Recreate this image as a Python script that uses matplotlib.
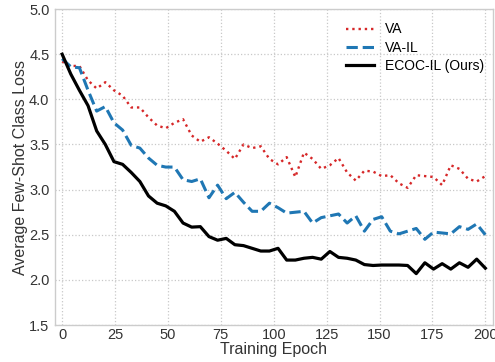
import matplotlib

matplotlib.use("Agg")

import matplotlib.pyplot as plt
import numpy as np

# 50 evaluation points spread over 200 epochs
epochs = np.linspace(0, 200, 50)

va_loss = [
    4.42, 4.37, 4.37, 4.21, 4.12, 4.19, 4.10, 4.04, 3.91, 3.91,
    3.80, 3.71, 3.68, 3.74, 3.78, 3.60, 3.53, 3.58, 3.51, 3.43,
    3.34, 3.50, 3.46, 3.48, 3.34, 3.28, 3.36, 3.14, 3.41, 3.34,
    3.23, 3.27, 3.35, 3.19, 3.10, 3.21, 3.20, 3.15, 3.16, 3.07,
    3.02, 3.16, 3.15, 3.14, 3.05, 3.27, 3.23, 3.12, 3.09, 3.15,
]

va_il_loss = [
    4.45, 4.36, 4.35, 4.10, 3.87, 3.92, 3.74, 3.66, 3.49, 3.46,
    3.35, 3.27, 3.25, 3.25, 3.11, 3.09, 3.12, 2.91, 3.05, 2.90,
    2.97, 2.86, 2.76, 2.76, 2.85, 2.80, 2.74, 2.75, 2.76, 2.63,
    2.69, 2.71, 2.73, 2.63, 2.71, 2.54, 2.67, 2.70, 2.54, 2.51,
    2.54, 2.57, 2.45, 2.53, 2.52, 2.51, 2.59, 2.56, 2.62, 2.50,
]

ecoc_il_loss = [
    4.50, 4.28, 4.10, 3.93, 3.65, 3.50, 3.31, 3.28, 3.19, 3.09,
    2.93, 2.85, 2.82, 2.76, 2.63, 2.585, 2.59, 2.48, 2.44, 2.46,
    2.39, 2.38, 2.35, 2.32, 2.32, 2.35, 2.22, 2.22, 2.24, 2.25,
    2.23, 2.315, 2.25, 2.24, 2.22, 2.17, 2.16, 2.165, 2.165, 2.165,
    2.16, 2.07, 2.19, 2.12, 2.18, 2.12, 2.19, 2.14, 2.23, 2.13,
]

x_ticks = [0, 25, 50, 75, 100, 125, 150, 175, 200]
y_ticks = [1.5, 2.0, 2.5, 3.0, 3.5, 4.0, 4.5, 5.0]

plt.rcParams["font.family"] = ["Liberation Sans", "DejaVu Sans"]

fig, ax = plt.subplots(figsize=(4.95, 3.62), dpi=100)
fig.subplots_adjust(left=0.111, right=0.995, top=0.975, bottom=0.102)

ax.plot(epochs, va_loss, color="#d62728", linestyle=":", linewidth=1.7, label="VA")
ax.plot(epochs, va_il_loss, color="#1f77b4", linestyle="--", linewidth=2.2, label="VA-IL")
ax.plot(epochs, ecoc_il_loss, color="black", linestyle="-", linewidth=2.3, label="ECOC-IL (Ours)")

ax.set_xlim(-3.4, 203.4)
ax.set_ylim(1.5, 5.0)
ax.set_xticks(x_ticks)
ax.set_yticks(y_ticks)
ax.set_xlabel("Training Epoch", fontsize=11.5, color="#333333", labelpad=0)
ax.set_ylabel("Average Few-Shot Class Loss", fontsize=11.5, color="#333333", labelpad=1)
ax.tick_params(axis="both", labelsize=10.5, colors="#333333", length=0)
ax.tick_params(axis="x", pad=2)
ax.tick_params(axis="y", pad=4)

ax.grid(True, linestyle=":", color="#c8c8c8", linewidth=0.9)
for spine in ax.spines.values():
    spine.set_color("#cccccc")
    spine.set_linewidth(1.0)

ax.legend(loc="upper right", bbox_to_anchor=(1.0, 0.984), frameon=False,
          fontsize=10, handlelength=2.0, borderaxespad=0.2, labelspacing=0.3)

fig.savefig("out.png", dpi=100)
plt.close(fig)
